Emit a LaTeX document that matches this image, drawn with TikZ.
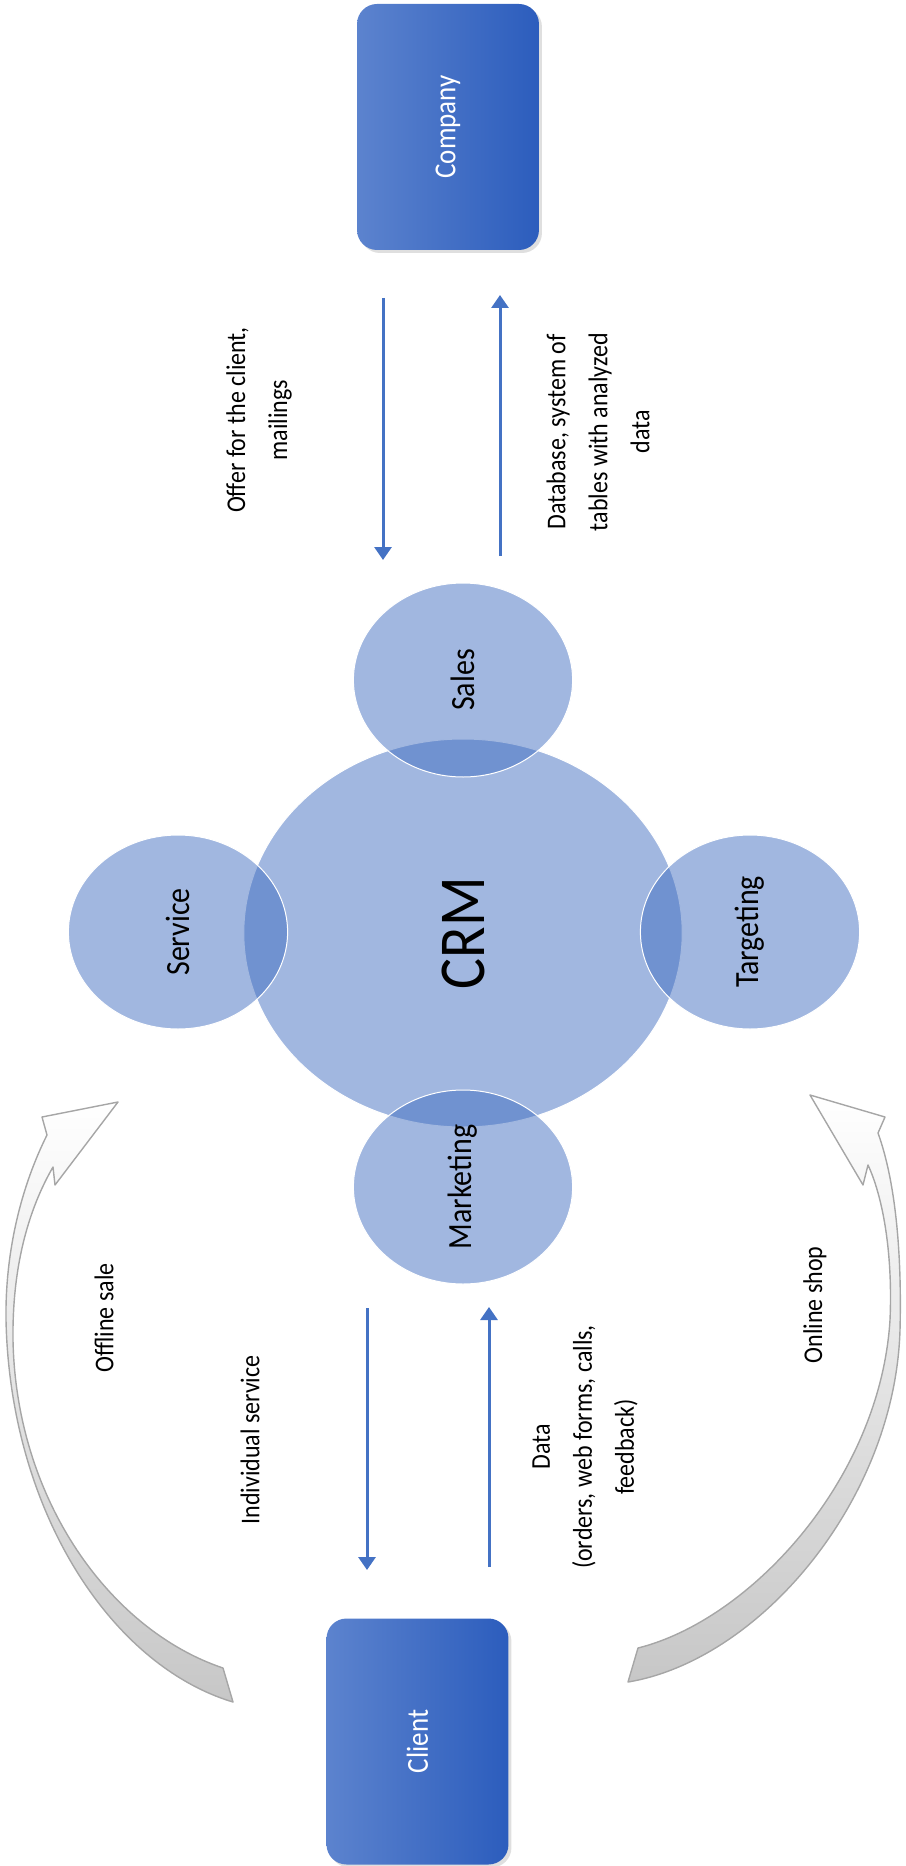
\documentclass[tikz,border=0pt]{standalone}
\usepackage{xcolor}
\usepackage{fontspec}
\setmainfont{Carlito}
\usepackage{tikz}
\usetikzlibrary{arrows.meta, positioning, shadows}
\definecolor{boxlight}{RGB}{92,131,206}
\definecolor{boxdark}{RGB}{44,93,189}
\definecolor{circblue}{RGB}{59,105,190}
\definecolor{flowblue}{RGB}{68,114,196}
\tikzset{
  sidebox/.style={rectangle, rotate=90, yscale=1.13, rounded corners=10pt,
    left color=boxlight, right color=boxdark, draw=none,
    minimum width=123pt, minimum height=80.5pt, inner sep=0pt,
    text=white, font=\fontsize{13.5}{16}\selectfont,
    drop shadow={shadow xshift=1.5pt, shadow yshift=-1.5pt, opacity=0.25}},
  hub/.style={circle, rotate=90, yscale=1.13, fill=circblue, fill opacity=0.48,
    text opacity=1, draw=white, line width=0.5pt, minimum size=194pt,
    inner sep=0pt, font=\fontsize{29}{34}\selectfont},
  part/.style={hub, minimum size=97pt, font=\fontsize{15}{18}\selectfont},
  lbl/.style={rotate=90, yscale=1.13, align=center, inner sep=0pt,
    font=\fontsize{12}{18.6}\selectfont},
  flow/.style={-{Triangle[length=6.5pt, width=8.5pt]}, line width=1.5pt, color=flowblue},
  curvarrow/.style={draw=black!35, line width=0.7pt, line join=round,
    top color=white, middle color=black!12, bottom color=black!22}
}
\begin{document}
\begin{tikzpicture}[x=0.5pt, y=-0.5pt]
  \useasboundingbox (0,0) rectangle (905,1866);

  % company and client
  \node [sidebox] (company) at (448,127) {Company};
  \node [sidebox] (client) at (417.5,1741.5) {Client};

  % crm and its parts
  \node [hub] (crm) at (463,933) {CRM};
  \node [part] (sales) at (463,680) {Sales};
  \node [part] (marketing) at (463,1187) {Marketing};
  \node [part] (service) at (178,932) {Service};
  \node [part] (targeting) at (750,932) {Targeting};

  % flows between company and crm
  \coordinate (offerS) at (383,298);
  \coordinate (offerE) at (383,560);
  \coordinate (baseS) at (500,556);
  \coordinate (baseE) at (500,295);
  \draw [flow] (offerS) -- (offerE);
  \draw [flow] (baseS) -- (baseE);
  \node [lbl] (offer) at (259,420) {Offer for the client,\\mailings};
  \node [lbl] (base) at (598,432) {Database, system of\\tables with analyzed\\data};

  % flows between crm and client
  \coordinate (indS) at (367,1308);
  \coordinate (indE) at (367,1570);
  \coordinate (dataS) at (489,1567);
  \coordinate (dataE) at (489,1307);
  \draw [flow] (indS) -- (indE);
  \draw [flow] (dataS) -- (dataE);
  \node [lbl] (indiv) at (250,1440) {Individual service};
  \node [lbl] (data) at (585,1447) {Data\\(orders, web forms, calls,\\feedback)};

  % curved arrows from client
  \draw [curvarrow] (223,1668)
    .. controls (110,1630) and (16,1500) .. (13,1340)
    .. controls (12,1255) and (34,1200) .. (53,1167)
    -- (55,1185) -- (118,1102) -- (42,1117) -- (47,1135)
    .. controls (22,1185) and (5,1250) .. (6,1320)
    .. controls (10,1510) and (110,1665) .. (233,1702) -- cycle;
  \node [lbl] (offline) at (104,1318) {Offline sale};

  \draw [curvarrow] (638,1648)
    .. controls (750,1620) and (880,1480) .. (890,1320)
    .. controls (893,1250) and (882,1195) .. (868,1165)
    -- (863,1185) -- (810,1095) -- (885,1117) -- (878,1133)
    .. controls (895,1180) and (902,1250) .. (900,1330)
    .. controls (895,1500) and (760,1660) .. (628,1682) -- cycle;
  \node [lbl] (online) at (815,1305) {Online shop};
\end{tikzpicture}
\end{document}
